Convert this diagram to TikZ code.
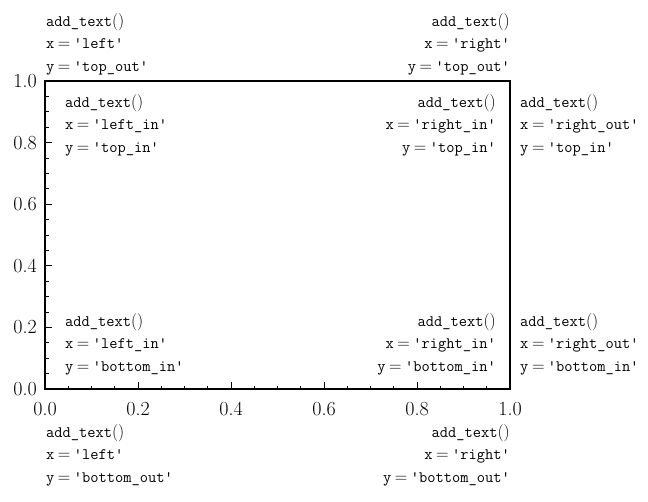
\documentclass[tikz,border=0pt]{standalone}
\usetikzlibrary{positioning}
\newcommand{\addtxt}{add\_text{\fontsize{18}{22}\selectfont$()$}}
\newcommand{\kv}[2]{#1\:$=$\:\textquotesingle #2\textquotesingle}
\tikzset{
    frame/.style = {
        draw,
        line width=1.3pt,
        minimum width=465pt,
        minimum height=308pt,
        inner sep=0pt,
        outer sep=0pt,
        },
    major/.style = {
        line width=0.9pt,
        },
    minor/.style = {
        line width=0.7pt,
        },
    ticklbl/.style = {
        inner sep=0pt,
        font=\fontsize{20}{22}\selectfont,
        },
    blk/.style = {
        inner sep=0pt,
        font=\fontsize{16}{22.5}\selectfont\ttfamily,
        },
}
\begin{document}
\begin{tikzpicture}[x=1pt,y=-1pt]
    \useasboundingbox (0,0) rectangle (648,501);
    \node[frame] (ax) at (277.5,235) {};

    % ticks, bottom and left only
    \foreach \i in {1,...,19} {
        \draw[minor] ([xshift=\i*23.25pt]ax.south west) -- ++(0,-3.5);
        \draw[minor] ([yshift=\i*15.4pt]ax.south west) -- ++(3.5,0);
    }
    \foreach \i/\t in {0/0.0,1/0.2,2/0.4,3/0.6,4/0.8,5/1.0} {
        \draw[major] ([xshift=\i*93pt]ax.south west) -- ++(0,-7);
        \draw[major] ([yshift=\i*61.6pt]ax.south west) -- ++(7,0);
        \node[ticklbl, anchor=north] (bx\i) at ([xshift=\i*93pt, yshift=-13pt]ax.south west) {\t};
        \node[ticklbl, anchor=east] (ly\i) at ([xshift=-8pt, yshift=\i*61.6pt]ax.south west) {\t};
    }

    % outside, top
    \node[blk, align=left, above right=6pt and 1pt of ax.north west] (lto)
        {\addtxt\\ \kv{x}{left}\\ \kv{y}{top\_out}};
    \node[blk, align=right, above left=6pt and 0pt of ax.north east] (rto)
        {\addtxt\\ \kv{x}{right}\\ \kv{y}{top\_out}};

    % inside, top
    \node[blk, align=left, below right=13pt and 20pt of ax.north west] (lti)
        {\addtxt\\ \kv{x}{left\_in}\\ \kv{y}{top\_in}};
    \node[blk, align=right, below left=13pt and 14pt of ax.north east] (rti)
        {\addtxt\\ \kv{x}{right\_in}\\ \kv{y}{top\_in}};
    \node[blk, align=left, below right=13pt and 10pt of ax.north east] (roti)
        {\addtxt\\ \kv{x}{right\_out}\\ \kv{y}{top\_in}};

    % inside, bottom
    \node[blk, align=left, above right=14pt and 20pt of ax.south west] (lbi)
        {\addtxt\\ \kv{x}{left\_in}\\ \kv{y}{bottom\_in}};
    \node[blk, align=right, above left=14pt and 14pt of ax.south east] (rbi)
        {\addtxt\\ \kv{x}{right\_in}\\ \kv{y}{bottom\_in}};
    \node[blk, align=left, above right=14pt and 10pt of ax.south east] (robi)
        {\addtxt\\ \kv{x}{right\_out}\\ \kv{y}{bottom\_in}};

    % outside, bottom
    \node[blk, align=left, below right=35pt and 1pt of ax.south west] (lbo)
        {\addtxt\\ \kv{x}{left}\\ \kv{y}{bottom\_out}};
    \node[blk, align=right, below left=35pt and 0pt of ax.south east] (rbo)
        {\addtxt\\ \kv{x}{right}\\ \kv{y}{bottom\_out}};
\end{tikzpicture}
\end{document}
